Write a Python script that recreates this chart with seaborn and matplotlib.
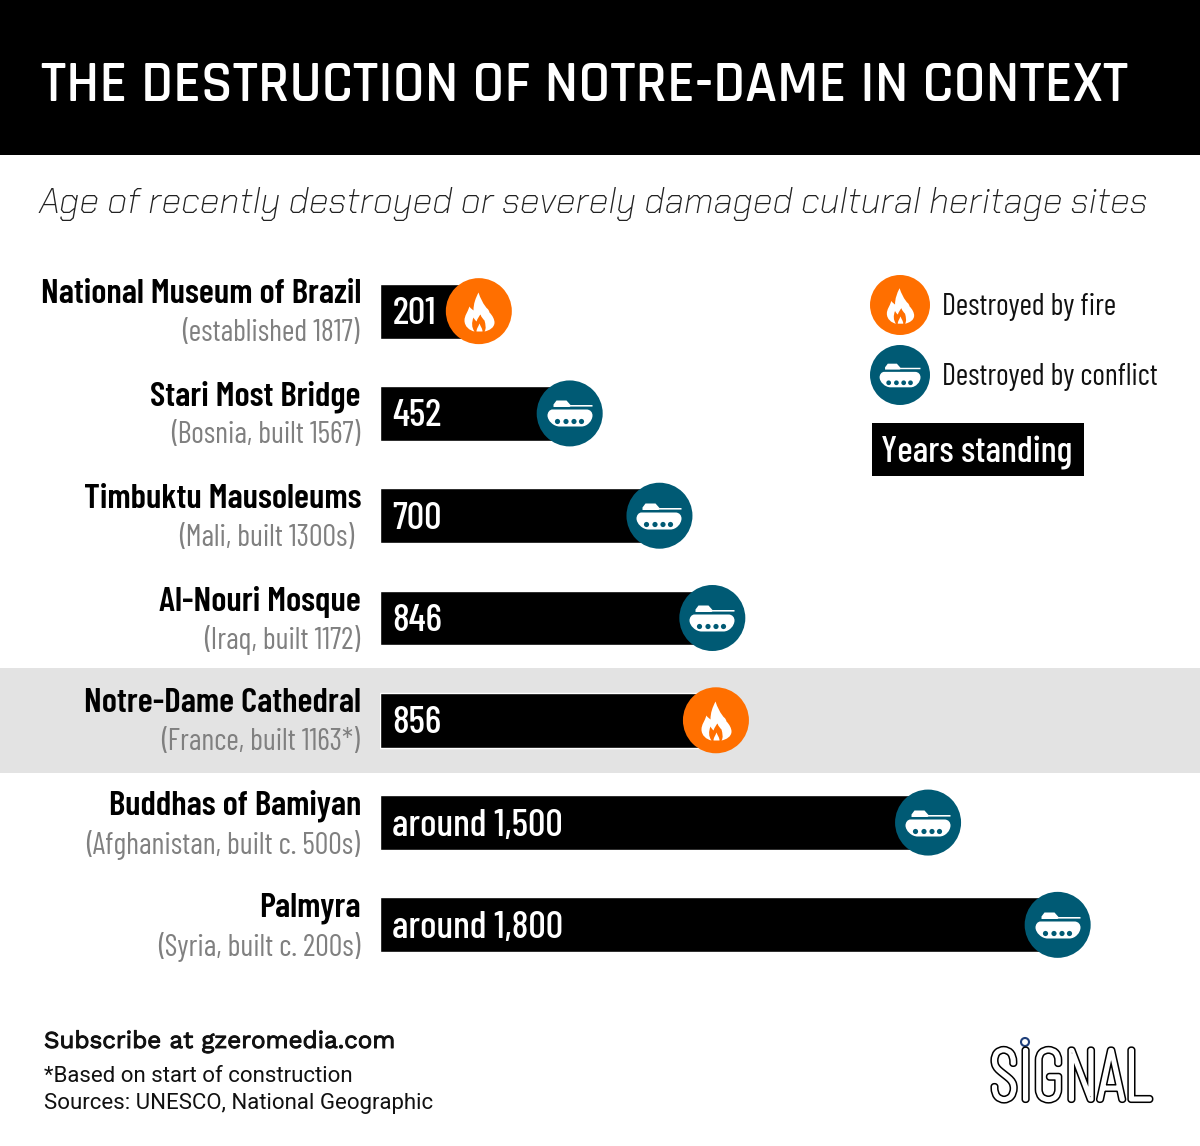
"""Age of damaged cultural heritage sites, horizontal bars with icon markers"""

import matplotlib
matplotlib.use("Agg")
import matplotlib.pyplot as plt
import matplotlib.patheffects as pe
from matplotlib.patches import Rectangle, Circle
from matplotlib.path import Path
from matplotlib.transforms import Affine2D
import pandas as pd
import seaborn as sns

sites = ["National Museum of Brazil", "Stari Most Bridge", "Timbuktu Mausoleums", "Al-Nouri Mosque",
         "Notre-Dame Cathedral", "Buddhas of Bamiyan", "Palmyra"]
details = ["(established 1817)", "(Bosnia, built 1567)", "(Mali, built 1300s)", "(Iraq, built 1172)",
           "(France, built 1163*)", "(Afghanistan, built c. 500s)", "(Syria, built c. 200s)"]
year_labels = ["201", "452", "700", "846", "856", "around 1,500", "around 1,800"]
# bar lengths as they are drawn in the picture (the 1,500 bar is visibly shorter than scale)
years_drawn = [201, 452, 700, 846, 856, 1442, 1800]
causes = ["fire", "conflict", "conflict", "conflict", "fire", "conflict", "conflict"]

COLORS = {"fire": "#ff6f00", "conflict": "#005a74"}
NARROW = ["Barlow Condensed", "Liberation Sans"]
TITLE = ["Rajdhani", "Roboto"]
SUBTITLE = ["Chakra Petch", "Exo 2", "Roboto"]
BODY = ["Work Sans", "Roboto"]
LEAD_IN = 72  # every bar starts with this stub so that the number fits


def curve_path(start, segments):
    # closed path out of cubic segments, a segment with one point is a straight line
    verts, codes = [start], [Path.MOVETO]
    for seg in segments:
        verts.extend(seg)
        codes.extend([Path.LINETO] if len(seg) == 1 else [Path.CURVE4] * 3)
    verts.append(start)
    codes.append(Path.CLOSEPOLY)
    return Path(verts, codes)


def tank_path():
    # all coordinates in px around the circle centre, hull clockwise so wheels cut holes
    hull = curve_path((-18, 4), [[(16, 4)], [(20, 4), (22, 1), (22, -2)], [(22, -7), (17, -13), (11, -13)],
                                 [(-11, -13)], [(-17, -13), (-23, -7), (-23, -2)], [(-23, 1), (-21, 4), (-18, 4)]])
    turret = curve_path((-17, 6.5), [[(-17, 9)], [(-14, 13)], [(-4, 13)], [(0, 8.5)], [(22, 8.5)], [(22, 6.9)],
                                     [(0, 6.9)], [(-1, 6.5)]])
    wheels = [Path.circle((x, -8), 2.6) for x in (-13, -4.5, 3.5, 11)]
    return Path.make_compound_path(hull, turret, *wheels)


def flame_path():
    outer = curve_path((-1, 19), [[(1, 13), (3, 9), (6, 5)], [(7, 3), (9, 3), (10, -1)], [(13, -4), (15, -8), (15, -11)],
                                  [(15, -16), (10, -19), (5, -20)], [(-5, -20)], [(-10, -19), (-15, -15), (-15, -9)],
                                  [(-15, -4), (-12, -1), (-10, 5)], [(-9, 3), (-7, 2), (-6, 1)],
                                  [(-6, 8), (-4, 13), (-1, 19)]])
    hole = curve_path((5, -20), [[(7, -17), (6, -13), (5, -9)], [(4, -8), (2, -6), (1, -3)], [(0, -4), (-2, -7), (-3, -10)],
                                 [(-4, -9), (-5, -8), (-6, -6)], [(-8, -11), (-8, -16), (-5, -20)]])
    tongue = curve_path((0, -12), [[(1, -15), (3, -17), (3, -20)], [(-3, -20)], [(-3, -17), (-1, -15), (0, -12)]])
    return Path.make_compound_path(outer, hole, tongue)


class SqueezedStroke(pe.AbstractPathEffect):
    """Stroke text while squeezing it horizontally around x0 (display px)"""

    def __init__(self, x0, sx, lw, color):
        super().__init__()
        self.x0, self.sx, self.lw, self.color = x0, sx, lw, color

    def draw_path(self, renderer, gc, tpath, affine, rgbFace=None):
        gc0 = renderer.new_gc()
        gc0.copy_properties(gc)
        gc0.set_linewidth(self.lw)
        gc0.set_foreground(self.color)
        squeeze = Affine2D().translate(-self.x0, 0).scale(self.sx, 1).translate(self.x0, 0)
        renderer.draw_path(gc0, tpath, affine + squeeze, None)
        gc0.restore()


def icon_size(path, radius_px):
    # custom markers get normalised on their largest coordinate
    extent = abs(path.vertices).max()
    return (2 * extent * radius_px / 33 * 0.72) ** 2


sns.set_style("white")
plt.rcParams["font.family"] = ["Roboto", "DejaVu Sans"]

df = pd.DataFrame({"site": sites, "drawn": years_drawn, "cause": causes})
df["length"] = df["drawn"] + LEAD_IN

fig = plt.figure(figsize=(12, 11.46), dpi=100)

# backdrop axes in image pixels
bg = fig.add_axes([0, 0, 1, 1], zorder=0)
bg.set_xlim(0, 1200)
bg.set_ylim(1146, 0)
bg.axis("off")
bg.add_patch(Rectangle((0, 0), 1200, 155, color="black", lw=0))
bg.add_patch(Rectangle((0, 668), 1200, 105, color="#e3e3e3", lw=0))
bg.text(41, 85, "THE DESTRUCTION OF NOTRE-DAME IN CONTEXT", color="white", fontsize=41.8,
        fontweight="semibold", family=TITLE, va="center", ha="left")
bg.text(39, 204, "Age of recently destroyed or severely damaged cultural heritage sites", color="#222222",
        fontsize=25.9, style="italic", fontweight="light", family=SUBTITLE, va="center", ha="left")

# bars
ax = fig.add_axes([380 / 1200, 1 - 976 / 1146, 820 / 1200, 716 / 1146], zorder=1)
ax.patch.set_alpha(0)
sns.barplot(data=df, x="length", y="site", color="black", saturation=1, width=0.535, ax=ax)
sns.scatterplot(data=df, x="length", y="site", hue="cause", palette=COLORS, s=(66 * 0.72) ** 2, linewidth=0,
                legend=False, zorder=3, clip_on=False, ax=ax)
for cause, path in (("fire", flame_path()), ("conflict", tank_path())):
    sns.scatterplot(data=df[df["cause"] == cause], x="length", y="site", color="white", marker=path,
                    s=icon_size(path, 33), linewidth=0, legend=False, zorder=4, clip_on=False, ax=ax)
ax.set_xlim(0, 820 / 0.362)
ax.set_ylim(6.5, -0.5)
ax.axis("off")

for i, (site, detail, label) in enumerate(zip(sites, details, year_labels)):
    ax.annotate(label, xy=(0, i), xytext=(12.5, -3), textcoords="offset pixels", color="white", fontsize=27.8,
                family=NARROW, va="center", ha="left", fontweight="medium", zorder=5)
    ax.annotate(site, xy=(0, i), xytext=(-19, 16.5), textcoords="offset pixels", color="black", fontsize=25.2,
                family=NARROW, va="center", ha="right", fontweight="semibold", annotation_clip=False)
    right = -26 if detail.startswith("(Mali") else -20
    ax.annotate(detail, xy=(0, i), xytext=(right, -22), textcoords="offset pixels", color="#808080", fontsize=21.8,
                family=NARROW, va="center", ha="right", annotation_clip=False)

# legend
top = fig.add_axes([0, 0, 1, 1], zorder=2)
legend_rows = pd.DataFrame({"x": [900, 900], "y": [305, 375], "cause": ["fire", "conflict"]})
sns.scatterplot(data=legend_rows, x="x", y="y", hue="cause", palette=COLORS, s=(60 * 0.72) ** 2, linewidth=0,
                legend=False, ax=top)
for cause, path in (("fire", flame_path()), ("conflict", tank_path())):
    sns.scatterplot(data=legend_rows[legend_rows["cause"] == cause], x="x", y="y", color="white", marker=path,
                    s=icon_size(path, 30), linewidth=0, legend=False, zorder=4, ax=top)
top.set_xlim(0, 1200)
top.set_ylim(1146, 0)
top.axis("off")
top.text(942, 307, "Destroyed by fire", fontsize=21.6, family=NARROW, color="#111111", va="center")
top.text(942, 377, "Destroyed by conflict", fontsize=21.6, family=NARROW, color="#111111", va="center")
top.add_patch(Rectangle((872, 423), 212, 53, color="black", lw=0))
top.text(881, 453, "Years standing", fontsize=26.5, family=NARROW, color="white", va="center", fontweight="medium")

# footer
top.text(44, 1042, "Subscribe at gzeromedia.com", fontsize=17.4, family=BODY, color="#111111", va="center",
         path_effects=[pe.withStroke(linewidth=0.7, foreground="#111111")])
top.text(44, 1077, "*Based on start of construction", fontsize=16, color="#111111", va="center")
top.text(44, 1103, "Sources: UNESCO, National Geographic", fontsize=16, color="#111111", va="center")

# logo
logo = top.text(990, 1100, "SIGNAL", fontsize=52, family=NARROW, fontweight=200,
                color="black", va="baseline", ha="left")
logo.set_path_effects([SqueezedStroke(990, 0.98, 4.4, "black"), SqueezedStroke(990, 0.98, 2.2, "white")])
top.add_patch(Circle((1025, 1042), 4, fc="white", ec="#1f3f7a", lw=1.5))

fig.savefig("out.png", dpi=100)
